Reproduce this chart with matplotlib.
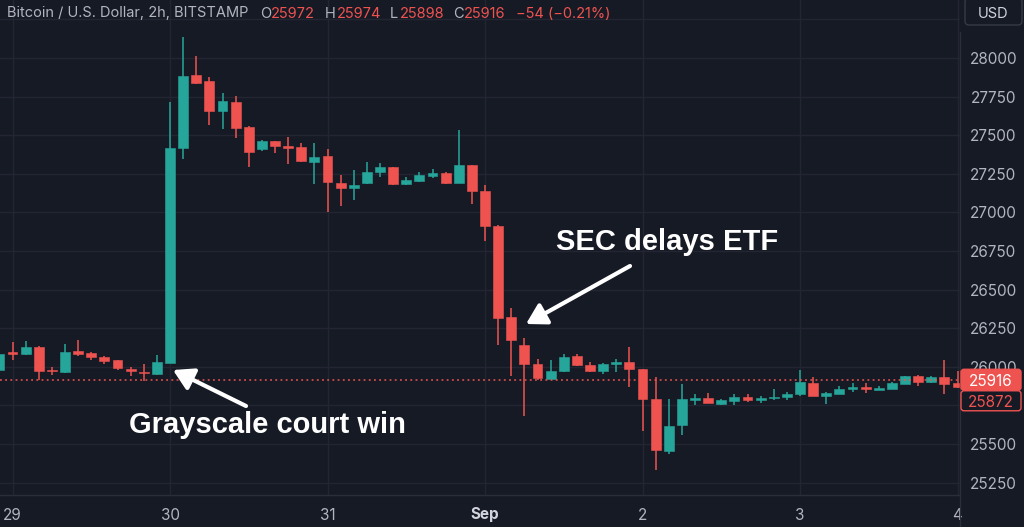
import matplotlib
matplotlib.use('Agg')
import matplotlib.pyplot as plt
import matplotlib.transforms as mtransforms
from matplotlib.patches import FancyBboxPatch
from matplotlib.lines import Line2D
import numpy as np

# ---------------- data ----------------
bar_index = list(range(-13, 61))   # 2h bars, 0 = Aug 30 00:00
opens = [25980, 26095, 26083, 26126, 25978, 25964, 26100, 26087, 26061, 26042, 25984, 25968, 25953,
         26027, 27419, 27892, 27849, 27657, 27717, 27555, 27408, 27460, 27432, 27421, 27329,
         27365, 27190, 27160, 27193, 27264, 27296, 27186, 27201, 27238, 27253, 27192, 27305,
         27139, 26912, 26320, 26141, 26016, 25923, 25973, 26070, 26012, 25975, 26016, 26033,
         25984, 25793, 25457, 25623, 25785, 25798, 25759, 25781, 25806, 25785, 25801, 25806,
         25822, 25897, 25813, 25822, 25854, 25867, 25852, 25858, 25888, 25940, 25899, 25936, 25893]
highs = [26100, 26158, 26167, 26135, 26001, 26148, 26173, 26096, 26070, 26044, 25997, 26018, 26076,
         27715, 28138, 28013, 27879, 27771, 27754, 27560, 27469, 27463, 27486, 27447, 27447,
         27411, 27242, 27275, 27324, 27318, 27296, 27227, 27264, 27279, 27264, 27534, 27305,
         27177, 26916, 26379, 26184, 26048, 26044, 26081, 26081, 26029, 26027, 26050, 26130,
         25984, 25936, 25789, 25889, 25824, 25828, 25789, 25824, 25822, 25813, 25854, 25839,
         25979, 25932, 25837, 25876, 25893, 25893, 25876, 25899, 25942, 25945, 25940, 26044, 25975]
lows = [25970, 26044, 26076, 25915, 25947, 25962, 26070, 26044, 26018, 25979, 25940, 25910, 25947,
        26027, 27346, 27832, 27566, 27542, 27480, 27296, 27400, 27383, 27313, 27329, 27184,
        27005, 27041, 27080, 27184, 27231, 27180, 27175, 27197, 27225, 27186, 27188, 27054,
        26815, 26141, 25942, 25681, 25914, 25919, 25968, 26007, 25964, 25951, 25968, 25871,
        25584, 25331, 25435, 25558, 25750, 25763, 25750, 25750, 25772, 25768, 25785, 25785,
        25811, 25811, 25759, 25822, 25839, 25832, 25850, 25856, 25886, 25878, 25893, 25824, 25860]
closes = [26085, 26086, 26126, 25973, 25972, 26098, 26083, 26066, 26040, 25994, 25971, 25957, 26031,
          27417, 27883, 27840, 27657, 27722, 27549, 27393, 27462, 27432, 27415, 27333, 27361,
          27197, 27160, 27175, 27259, 27294, 27186, 27208, 27240, 27253, 27192, 27305, 27141,
          26914, 26316, 26173, 26016, 25930, 25973, 26066, 26012, 25975, 26016, 26033, 25986,
          25793, 25461, 25616, 25789, 25796, 25763, 25783, 25806, 25785, 25798, 25806, 25824,
          25904, 25811, 25832, 25854, 25867, 25856, 25860, 25893, 25940, 25899, 25932, 25890, 25872]

day_ticks = [-12, 0, 12, 24, 36, 48, 60]
day_labels = ['29', '30', '31', 'Sep', '2', '3', '4']
grid_prices = [25250, 25500, 25750, 26000, 26250, 26500, 26750, 27000, 27250, 27500, 27750, 28000, 28250]
price_labels = [25250, 25500, 26000, 26250, 26500, 26750, 27000, 27250, 27500, 27750, 28000]
last_price = 25916
second_price = 25872

header_title = 'Bitcoin / U.S. Dollar, 2h, BITSTAMP'
header_ohlc = [('O', '25972'), ('H', '25974'), ('L', '25898'), ('C', '25916')]
header_change = '\u221254 (\u22120.21%)'

ann1_text = 'Grayscale court win'
ann2_text = 'SEC delays ETF'

# ---------------- style ----------------
W, H = 1024, 527
BG = '#161a25'
GRID = '#232632'
BORDER = '#2a2e39'
UP = '#26a69a'
DN = '#ef5350'
TXT = '#b2b5be'
FONT = ['Inter', 'DejaVu Sans']
plt.rcParams['font.family'] = FONT

fig = plt.figure(figsize=(W / 100, H / 100), dpi=100, facecolor=BG)

ax = fig.add_axes([0, 32 / H, 960 / W, 495 / H], facecolor=BG)
spacing = 13.125
x0 = -170 / spacing
ax.set_xlim(x0, x0 + 960 / spacing)
ylo, yhi = 25169.7, 28375.6
ax.set_ylim(ylo, yhi)

for p in grid_prices:
    ax.axhline(p, color=GRID, lw=1, zorder=0)
for t in day_ticks:
    ax.axvline(t, color=GRID, lw=1, zorder=0)

o = np.array(opens, float)
h = np.array(highs, float)
l = np.array(lows, float)
c = np.array(closes, float)
xs = np.array(bar_index, float)
cols = np.where(c >= o, UP, DN)

ax.vlines(xs, l, h, colors=cols, lw=1.1, zorder=2)
bottoms = np.minimum(o, c)
heights = np.maximum(np.abs(c - o), 6)
ax.bar(xs, heights, bottom=bottoms, width=0.76, color=cols, edgecolor=cols, lw=0.4, zorder=3)

ax.axhline(last_price, color=DN, lw=1.1, ls=(0, (1.2, 2.2)), zorder=4)

for s in ['top', 'left', 'right']:
    ax.spines[s].set_visible(False)
ax.spines['bottom'].set_color(BORDER)
ax.set_yticks([])
ax.set_xticks(day_ticks)
ax.set_xticklabels(day_labels)
ax.tick_params(axis='x', length=0, pad=9, labelsize=11, labelcolor=TXT)
for lab in ax.get_xticklabels():
    if lab.get_text() == 'Sep':
        lab.set_fontweight('bold')
        lab.set_color('#d1d4dc')

# annotations
def px2data(px, py):
    return (x0 + px / spacing, yhi - py * (yhi - ylo) / 495)

arrow_kw = dict(arrowstyle='-|>,head_length=0.6,head_width=0.35', color='white', lw=3,
                shrinkA=0, shrinkB=0, mutation_scale=20)
ax.annotate('', xy=px2data(173, 370), xytext=px2data(246, 406), arrowprops=arrow_kw, zorder=6)
ax.annotate('', xy=px2data(526, 324), xytext=px2data(630, 266), arrowprops=arrow_kw, zorder=6)
ax.text(*px2data(267, 433), ann1_text, color='white', fontsize=21, fontweight='bold',
        family=['Liberation Sans', 'DejaVu Sans'], ha='center', va='baseline', zorder=6)
ax.text(*px2data(667, 250), ann2_text, color='white', fontsize=21, fontweight='bold',
        family=['Liberation Sans', 'DejaVu Sans'], ha='center', va='baseline', zorder=6)

# right price axis
ax2 = fig.add_axes([960 / W, 0, 64 / W, 1], facecolor=BG)
ax2.set_xlim(0, 1)
ax2.set_ylim(yhi - 527 * (yhi - ylo) / 495, yhi)
ax2.axis('off')
for p in price_labels:
    ax2.text(0.52, p, str(p), ha='center', va='center_baseline', fontsize=11, color=TXT)

fig.add_artist(Line2D([960 / W, 960 / W], [0, 1 - 32 / H], color=BORDER, lw=1, zorder=3))
fig.add_artist(Line2D([0, 960 / W], [32 / H, 32 / H], color=BORDER, lw=1, zorder=3))

# USD box
ident = mtransforms.IdentityTransform()
fig.add_artist(FancyBboxPatch((965, H - 25), 57, 27, boxstyle='round,pad=0,rounding_size=4',
                              fc=BG, ec='#363a45', lw=1, transform=ident, zorder=3))
fig.text(993 / W, 1 - 12 / H, 'USD', ha='center', va='center_baseline', fontsize=10.5,
         color='#d1d4dc', zorder=4)

# price tags
fig.canvas.draw()
ytag = ax.transData.transform((0, last_price))[1]
fig.add_artist(FancyBboxPatch((961, ytag - 10.5), 60, 21, boxstyle='round,pad=0,rounding_size=3',
                              fc=DN, ec=DN, lw=1, transform=ident, zorder=5))
fig.text(991 / W, ytag / H, str(last_price), ha='center', va='center_baseline', fontsize=11,
         color='white', zorder=6)
y2 = ytag - 21
fig.add_artist(FancyBboxPatch((961, y2 - 10), 60, 20, boxstyle='round,pad=0,rounding_size=3',
                              fc=BG, ec=DN, lw=1, transform=ident, zorder=5))
fig.text(991 / W, y2 / H, str(second_price), ha='center', va='center_baseline', fontsize=11,
         color=DN, zorder=6)

# header
hy = 1 - 12 / H
fig.text(7 / W, hy, header_title, ha='left', va='center_baseline', fontsize=10.5, color=TXT)
pos = [(260, 271), (325, 337), (390, 400), (453, 464)]
for (letter, val), (lx, vx) in zip(header_ohlc, pos):
    fig.text(lx / W, hy, letter, ha='left', va='center_baseline', fontsize=10.5, color=TXT)
    fig.text(vx / W, hy, val, ha='left', va='center_baseline', fontsize=10.5, color=DN)
fig.text(516 / W, hy, header_change, ha='left', va='center_baseline', fontsize=10.5, color=DN)

fig.savefig('out.png', dpi=100, facecolor=BG)
